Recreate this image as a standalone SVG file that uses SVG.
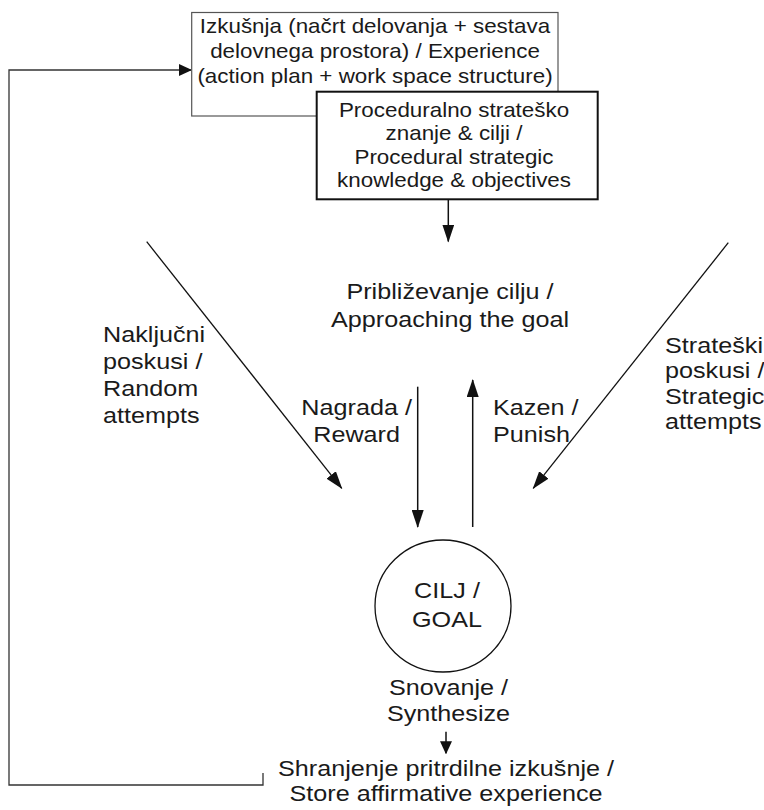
<svg xmlns="http://www.w3.org/2000/svg" width="764" height="810" viewBox="0 0 764 810">
<style>
  text { font-family: "Liberation Sans", Arial, sans-serif; fill: #1a1a1a; }
  .bx { font-size: 20px; text-anchor: middle; }
  .lb { font-size: 22.5px; }
  .mid { text-anchor: middle; }
  .ln { stroke: #111; stroke-width: 1.5; fill: none; }
  .dg { stroke: #111; stroke-width: 1.3; fill: none; }
  .fb { stroke: #333; stroke-width: 1.3; fill: none; }
</style>
<defs>
  <marker id="ah" markerWidth="18" markerHeight="12" refX="17" refY="6" orient="auto" markerUnits="userSpaceOnUse">
    <path d="M0,0 L18,6 L0,12 z" fill="#111"/>
  </marker>
  <marker id="ahs" markerWidth="13" markerHeight="12" refX="12" refY="6" orient="auto" markerUnits="userSpaceOnUse">
    <path d="M0,0 L13,6 L0,12 z" fill="#111"/>
  </marker>
</defs>
<rect width="764" height="810" fill="#fff"/>

<g id="connectors">
  <polyline class="fb" points="263,773 263,785 9,785 9,70 191,70" marker-end="url(#ahs)"/>
  <line class="ln" x1="448.3" y1="199" x2="448.3" y2="241.5" marker-end="url(#ah)"/>
  <line class="dg" x1="146.7" y1="241.7" x2="341.7" y2="488.3" marker-end="url(#ah)"/>
  <line class="dg" x1="728.3" y1="242.7" x2="533.3" y2="488.3" marker-end="url(#ah)"/>
  <line class="ln" x1="417.7" y1="386.7" x2="417.7" y2="527" marker-end="url(#ah)"/>
  <line class="ln" x1="472.7" y1="527" x2="472.7" y2="380" marker-end="url(#ah)"/>
  <line class="ln" x1="446" y1="731.7" x2="446" y2="753.3" marker-end="url(#ahs)"/>
</g>

<g id="experience">
  <rect x="191.7" y="12.5" width="366.3" height="103.5" fill="#fff" stroke="#555" stroke-width="1.2"/>
  <text class="bx" transform="translate(375,0) scale(1.12,1)" x="0" y="33.5">Izkušnja (načrt delovanja + sestava</text>
  <text class="bx" transform="translate(375,0) scale(1.12,1)" x="0" y="58.5">delovnega prostora) / Experience</text>
  <text class="bx" transform="translate(375,0) scale(1.12,1)" x="0" y="83.5">(action plan + work space structure)</text>
</g>

<g id="procedural">
  <rect x="316.7" y="91.7" width="281" height="107.6" fill="#fff" stroke="#111" stroke-width="2"/>
  <text class="bx" transform="translate(454,0) scale(1.12,1)" x="0" y="117.5">Proceduralno strateško</text>
  <text class="bx" transform="translate(454,0) scale(1.12,1)" x="0" y="140.5">znanje &amp; cilji /</text>
  <text class="bx" transform="translate(454,0) scale(1.12,1)" x="0" y="164">Procedural strategic</text>
  <text class="bx" transform="translate(454,0) scale(1.12,1)" x="0" y="187.5">knowledge &amp; objectives</text>
</g>

<g id="approach">
  <text class="lb mid" transform="translate(450,0) scale(1.12,1)" x="0" y="299.5">Približevanje cilju /</text>
  <text class="lb mid" transform="translate(450,0) scale(1.12,1)" x="0" y="327.5">Approaching the goal</text>
</g>

<g id="label-random">
  <text class="lb" transform="translate(103,0) scale(1.12,1)" x="0" y="342">Naključni</text>
  <text class="lb" transform="translate(103,0) scale(1.12,1)" x="0" y="369">poskusi /</text>
  <text class="lb" transform="translate(103,0) scale(1.12,1)" x="0" y="396">Random</text>
  <text class="lb" transform="translate(103,0) scale(1.12,1)" x="0" y="423">attempts</text>
</g>

<g id="label-strategic">
  <text class="lb" transform="translate(665,0) scale(1.12,1)" x="0" y="353">Strateški</text>
  <text class="lb" transform="translate(665,0) scale(1.12,1)" x="0" y="378.5">poskusi /</text>
  <text class="lb" transform="translate(665,0) scale(1.12,1)" x="0" y="404">Strategic</text>
  <text class="lb" transform="translate(665,0) scale(1.12,1)" x="0" y="429">attempts</text>
</g>

<g id="label-reward">
  <text class="lb mid" transform="translate(356.6,0) scale(1.12,1)" x="0" y="415">Nagrada /</text>
  <text class="lb mid" transform="translate(356.6,0) scale(1.12,1)" x="0" y="442.5">Reward</text>
</g>

<g id="label-punish">
  <text class="lb" transform="translate(493,0) scale(1.12,1)" x="0" y="415">Kazen /</text>
  <text class="lb" transform="translate(493,0) scale(1.12,1)" x="0" y="442.5">Punish</text>
</g>

<g id="goal">
  <ellipse cx="443" cy="606" rx="68" ry="66" fill="#fff" stroke="#111" stroke-width="1.3"/>
  <text class="lb mid" transform="translate(447,0) scale(1.12,1)" x="0" y="598.5">CILJ /</text>
  <text class="lb mid" transform="translate(447,0) scale(1.12,1)" x="0" y="627">GOAL</text>
</g>

<g id="label-synthesize">
  <text class="lb mid" transform="translate(448.5,0) scale(1.12,1)" x="0" y="695">Snovanje /</text>
  <text class="lb mid" transform="translate(448.5,0) scale(1.12,1)" x="0" y="721.5">Synthesize</text>
</g>

<g id="store">
  <text class="lb mid" transform="translate(446,0) scale(1.12,1)" x="0" y="776">Shranjenje pritrdilne izkušnje /</text>
  <text class="lb mid" transform="translate(446,0) scale(1.12,1)" x="0" y="801.5">Store affirmative experience</text>
</g>
</svg>
